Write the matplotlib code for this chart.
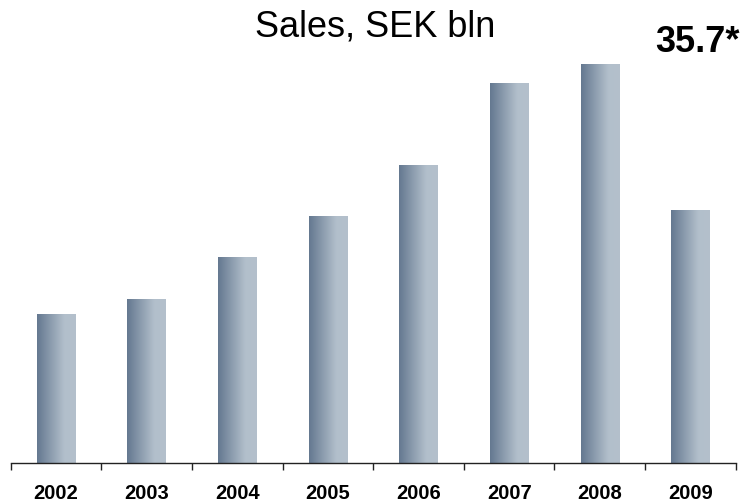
import numpy as np
import matplotlib.pyplot as plt
from matplotlib.colors import LinearSegmentedColormap
from matplotlib.ticker import FixedLocator

plt.rcParams['font.family'] = ['Liberation Sans', 'DejaVu Sans']

# Sales per year, SEK bln
years = ['2002', '2003', '2004', '2005', '2006', '2007', '2008', '2009']
sales = [13.3, 14.7, 18.4, 22.1, 26.7, 34.0, 35.7, 22.6]
highlight = '35.7*'

fig = plt.figure(figsize=(7.42, 5.03), dpi=100)
ax = fig.add_axes([10.7 / 742, 40 / 503, 725 / 742, 443 / 503])

x = np.arange(len(years))
bars = ax.bar(x, sales, width=0.425, color='none', edgecolor='none', zorder=2)

# horizontal gradient inside each bar, dark on the left, light on the right
cmap = LinearSegmentedColormap.from_list(
    'bar', [(0.0, '#647890'), (0.7, '#b2bfcb'), (1.0, '#b4c0cc')])
grad = np.linspace(0, 1, 256).reshape(1, -1)
for b in bars:
    im = ax.imshow(grad, cmap=cmap, aspect='auto', zorder=2,
                   extent=[b.get_x(), b.get_x() + b.get_width(), 0, b.get_height()])
    im.set_clip_path(b)

ax.set_xlim(-0.5, len(years) - 0.5)
ax.set_ylim(0, 35.7 * 443 / 399)

for side in ['left', 'right', 'top']:
    ax.spines[side].set_visible(False)
ax.spines['bottom'].set_color('#222222')
ax.spines['bottom'].set_linewidth(1.0)
ax.spines['bottom'].set_zorder(3)

ax.set_yticks([])
ax.set_xticks(x)
ax.set_xticklabels(years, fontsize=14.5, fontweight='bold')
ax.tick_params(axis='x', which='major', length=0, pad=15)
ax.xaxis.set_minor_locator(FixedLocator(np.arange(-0.5, len(years), 1.0)))
ax.tick_params(axis='x', which='minor', length=5, width=1.0, color='#222222')

fig.text(375.5 / 742, 1 - 37 / 503, 'Sales, SEK bln', fontsize=26,
         ha='center', va='baseline')
fig.text(740 / 742, 1 - 52 / 503, highlight, fontsize=26, fontweight='bold',
         ha='right', va='baseline')

fig.savefig('out.png', dpi=100)
